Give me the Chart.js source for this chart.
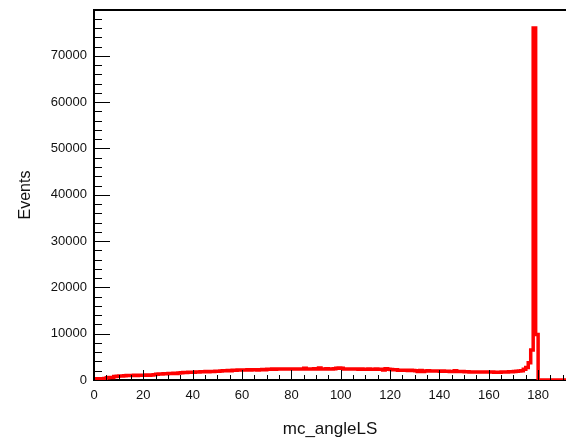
<!DOCTYPE html>
<html><head><meta charset="utf-8">
<script src="https://cdn.jsdelivr.net/npm/chart.js@4/dist/chart.umd.min.js"></script>
<style>html,body{margin:0;padding:0;background:#fff;overflow:hidden}#wrap{width:566px;height:444px}</style>
</head><body><div id="wrap"><canvas id="c" width="566" height="444"></canvas></div>
<script>
// Histogram of mc_angleLS, 1-degree bins starting at 0
const binStart = 0;
const binWidth = 1;
const counts = [
  250, 200, 250, 250, 300, 500, 550, 550, 750, 800,
  850, 850, 900, 950, 950, 950, 1000, 950, 1000, 1000,
  1050, 1100, 1050, 1100, 1150, 1250, 1300, 1300, 1350, 1350,
  1400, 1400, 1450, 1400, 1500, 1550, 1600, 1600, 1650, 1650,
  1700, 1750, 1750, 1800, 1800, 1850, 1800, 1850, 1850, 1900,
  1900, 1950, 2000, 2000, 2050, 2000, 2100, 2100, 2150, 2150,
  2150, 2150, 2200, 2150, 2200, 2200, 2150, 2200, 2250, 2200,
  2300, 2300, 2350, 2300, 2350, 2350, 2400, 2350, 2400, 2400,
  2400, 2350, 2400, 2400, 2400, 2550, 2400, 2400, 2400, 2450,
  2400, 2600, 2400, 2400, 2450, 2400, 2400, 2450, 2550, 2600,
  2550, 2400, 2350, 2350, 2350, 2350, 2350, 2300, 2350, 2300,
  2300, 2350, 2300, 2300, 2350, 2300, 2300, 2150, 2450, 2300,
  2250, 2200, 2200, 2100, 2100, 2100, 2100, 2050, 2100, 2050,
  2000, 1850, 2050, 1850, 1950, 2000, 1950, 1950, 1950, 1950,
  1900, 1950, 1900, 1900, 1850, 1850, 2000, 1850, 1850, 1850,
  1800, 1800, 1750, 1750, 1750, 1750, 1750, 1750, 1750, 1750,
  1750, 1750, 1700, 1650, 1700, 1750, 1750, 1750, 1800, 1800,
  1850, 1900, 1950, 2000, 2300, 2700, 3700, 6500, 76000, 9800,
  0, 0, 0, 0, 0, 0, 0, 0, 0, 0,
  0, 0
];
const xTickLabels = [0, 20, 40, 60, 80, 100, 120, 140, 160, 180];
const yTickLabels = [0, 10000, 20000, 30000, 40000, 50000, 60000, 70000];
const xMinorStep = 5;
const yMinorStep = 2000;
const xRange = [0, 191.3];
const yRange = [0, 79900];

const points = counts.map((v, i) => ({x: binStart + i * binWidth, y: v}));
points.push({x: xRange[1] + 1, y: counts[counts.length - 1]});

const FONT = '"Liberation Sans", Arial, Helvetica, sans-serif';

const frame = {
  id: 'frame',
  beforeDatasetsDraw(chart) {
    const {ctx, chartArea: a} = chart;
    ctx.save();
    ctx.strokeStyle = '#000';
    ctx.lineWidth = 2;
    ctx.beginPath();
    ctx.moveTo(a.left, a.top); ctx.lineTo(a.right + 2, a.top);
    ctx.moveTo(a.left, a.top - 1); ctx.lineTo(a.left, a.bottom);
    ctx.moveTo(a.left - 1, a.bottom); ctx.lineTo(a.right + 2, a.bottom);
    ctx.stroke();
    ctx.restore();
  },
  afterDatasetsDraw(chart) {
    const {ctx, chartArea: a, scales: {x, y}} = chart;
    ctx.save();
    ctx.strokeStyle = '#000';
    ctx.lineWidth = 1;
    ctx.beginPath();
    for (let v = xRange[0]; v <= xRange[1]; v += xMinorStep) {
      const px = Math.round(x.getPixelForValue(v)) + 0.5;
      const len = (v % 20 === 0) ? 10 : 5;
      ctx.moveTo(px, a.bottom); ctx.lineTo(px, a.bottom - len);
    }
    for (let v = yRange[0]; v <= yRange[1]; v += yMinorStep) {
      const py = Math.round(y.getPixelForValue(v)) + 0.5;
      const len = (v % 10000 === 0) ? 16 : 8;
      ctx.moveTo(a.left, py); ctx.lineTo(a.left + len, py);
    }
    ctx.stroke();
    ctx.restore();
  }
};

new Chart(document.getElementById('c'), {
  type: 'line',
  data: {
    datasets: [{
      data: points,
      stepped: 'before',
      borderColor: '#ff0000',
      borderWidth: 3.5,
      pointRadius: 0,
      fill: false,
      tension: 0
    }]
  },
  options: {
    responsive: false,
    animation: false,
    devicePixelRatio: 1,
    layout: {padding: {left: 0, right: 0, top: 10, bottom: 0}},
    plugins: {legend: {display: false}, tooltip: {enabled: false}},
    scales: {
      x: {
        type: 'linear', min: xRange[0], max: xRange[1],
        grid: {display: false, drawTicks: false},
        border: {display: false},
        afterBuildTicks: s => { s.ticks = xTickLabels.map(v => ({value: v})); },
        afterFit: s => { s.height = 64; s.paddingLeft = 0; s.paddingRight = 0; },
        ticks: {color: '#111', font: {family: FONT, size: 13}, padding: 8, maxRotation: 0, autoSkip: false,
                callback: v => String(v)},
        title: {display: true, text: 'mc_angleLS', color: '#111', font: {family: FONT, size: 17}, padding: {top: 0, bottom: 4}}
      },
      y: {
        type: 'linear', min: yRange[0], max: yRange[1],
        grid: {display: false, drawTicks: false},
        border: {display: false},
        afterBuildTicks: s => { s.ticks = yTickLabels.map(v => ({value: v})); },
        afterFit: s => { s.width = 94; s.paddingTop = 0; s.paddingBottom = 0; },
        ticks: {color: '#111', font: {family: FONT, size: 13}, padding: 7, callback: v => String(v)},
        title: {display: true, text: 'Events', color: '#111', font: {family: FONT, size: 16}, padding: {top: 16, bottom: 0}}
      }
    }
  },
  plugins: [frame]
});
</script>
</body></html>
